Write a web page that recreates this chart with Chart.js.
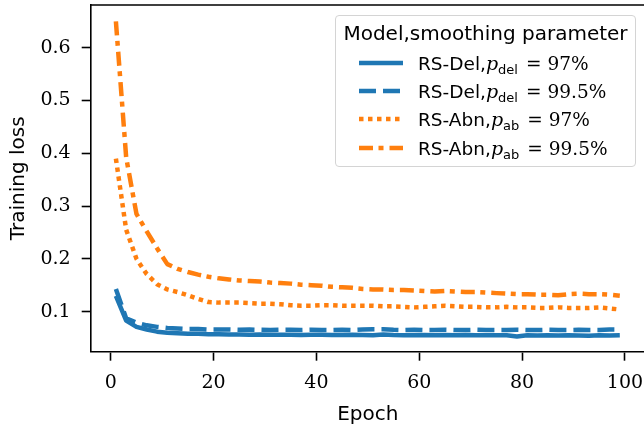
<!DOCTYPE html>
<html>
<head>
<meta charset="utf-8">
<script src="https://cdn.jsdelivr.net/npm/chart.js@4.4.1/dist/chart.umd.min.js"></script>
<style>
  html, body { margin: 0; padding: 0; background: #fff; overflow: hidden; }
  #wrap { position: relative; width: 650px; height: 430px; }
  #legend {
    position: absolute; left: 335px; top: 15px; width: 301px; height: 152px;
    box-sizing: border-box; border: 1px solid #d4d4d4; border-radius: 4px;
    background: rgba(255,255,255,0.8); color: #000; font-family: 'DejaVu Sans';
  }
  #legend .title { position: absolute; left: 0; right: 0; top: 5px; line-height: 24px;
    font-size: 20px; text-align: center; white-space: nowrap; }
  #legend .row { position: absolute; left: 0; height: 28px; display: flex; align-items: center; white-space: nowrap; }
  #legend svg { position: absolute; left: 23px; top: 9px; }
  #legend .lbl { position: absolute; left: 82px; top: 0; line-height: 28px; font-size: 18.5px; }
  #legend .m { font-family: 'DejaVu Serif'; font-style: italic; font-size: 19px; }
  #legend sub { font-family: 'DejaVu Sans'; font-size: 13px; vertical-align: -4px; line-height: 0; }
  #legend .s { font-family: 'DejaVu Serif'; font-size: 18.5px; }
  #legend .eq { padding: 0 6px 0 8px; }
</style>
</head>
<body>
<div id="wrap">
  <canvas id="lossChart"></canvas>
  <div id="legend"></div>
</div>
<script>
// epochs logged (every other epoch)
const epochs = [1, 3, 5, 7, 9, 11, 13, 15, 17, 19, 21, 23, 25, 27, 29, 31, 33, 35, 37, 39,
  41, 43, 45, 47, 49, 51, 53, 55, 57, 59, 61, 63, 65, 67, 69, 71, 73, 75, 77, 79,
  81, 83, 85, 87, 89, 91, 93, 95, 97, 99];

const lossDel97 = [0.130, 0.083, 0.071, 0.066, 0.062, 0.060, 0.059, 0.058, 0.058, 0.057,
  0.057, 0.0565, 0.0565, 0.056, 0.0565, 0.056, 0.056, 0.056, 0.0555, 0.056,
  0.056, 0.0555, 0.0555, 0.056, 0.0555, 0.055, 0.0565, 0.0555, 0.055, 0.055,
  0.0555, 0.055, 0.0555, 0.055, 0.0555, 0.055, 0.055, 0.055, 0.055, 0.053,
  0.055, 0.0545, 0.055, 0.0545, 0.055, 0.0545, 0.054, 0.055, 0.0545, 0.055];

const lossDel995 = [0.143, 0.087, 0.079, 0.074, 0.071, 0.069, 0.068, 0.067, 0.067, 0.066,
  0.066, 0.066, 0.0655, 0.066, 0.0655, 0.065, 0.0655, 0.0655, 0.065, 0.0655,
  0.065, 0.065, 0.0655, 0.065, 0.066, 0.0665, 0.0665, 0.0655, 0.065, 0.0655,
  0.065, 0.065, 0.0655, 0.065, 0.065, 0.0655, 0.065, 0.065, 0.065, 0.0655,
  0.065, 0.065, 0.0655, 0.065, 0.065, 0.0655, 0.065, 0.065, 0.066, 0.066];

const lossAbn97 = [0.390, 0.255, 0.200, 0.171, 0.152, 0.142, 0.137, 0.131, 0.124, 0.118,
  0.117, 0.117, 0.117, 0.116, 0.115, 0.115, 0.114, 0.112, 0.111, 0.111,
  0.112, 0.112, 0.111, 0.111, 0.111, 0.111, 0.110, 0.110, 0.109, 0.108,
  0.109, 0.110, 0.111, 0.110, 0.109, 0.109, 0.108, 0.108, 0.109, 0.108,
  0.108, 0.107, 0.107, 0.108, 0.107, 0.107, 0.107, 0.108, 0.106, 0.104];

const lossAbn995 = [0.650, 0.392, 0.285, 0.252, 0.220, 0.190, 0.181, 0.175, 0.170, 0.166,
  0.163, 0.161, 0.159, 0.158, 0.157, 0.155, 0.154, 0.153, 0.151, 0.150,
  0.149, 0.147, 0.146, 0.145, 0.143, 0.142, 0.142, 0.141, 0.141, 0.140,
  0.139, 0.138, 0.139, 0.138, 0.137, 0.137, 0.136, 0.135, 0.134, 0.133,
  0.133, 0.132, 0.132, 0.131, 0.133, 0.134, 0.133, 0.133, 0.132, 0.130];

const xTicks = [0, 20, 40, 60, 80, 100];
const yTicks = [0.1, 0.2, 0.3, 0.4, 0.5, 0.6];

const models = ['RS-Del', 'RS-Del', 'RS-Abn', 'RS-Abn'];
const paramNames = ['del', 'del', 'ab', 'ab'];
const paramValues = ['97%', '99.5%', '97%', '99.5%'];

const blue = '#1f77b4';
const orange = '#ff7f0e';

function toPoints(values) {
  return epochs.map((e, i) => ({ x: e, y: values[i] }));
}

function makeSet(i, values, color, dash) {
  return {
    label: models[i] + ',p_' + paramNames[i] + ' = ' + paramValues[i],
    data: toPoints(values),
    borderColor: color,
    backgroundColor: color,
    borderWidth: 4.5,
    borderDash: dash,
    borderCapStyle: 'butt',
    borderJoinStyle: 'round',
    pointRadius: 0,
    tension: 0,
    fill: false
  };
}

// draws top / right spines like matplotlib axes frame
const frame = {
  id: 'frame',
  afterDatasetsDraw(chart) {
    const { ctx, chartArea: a } = chart;
    ctx.save();
    ctx.strokeStyle = '#000';
    ctx.lineWidth = 1.6;
    ctx.beginPath();
    ctx.moveTo(a.left, a.top);
    ctx.lineTo(a.right, a.top);
    ctx.lineTo(a.right, a.bottom);
    ctx.stroke();
    ctx.restore();
  }
};

// html legend, so the subscripts stay real text
const htmlLegend = {
  id: 'htmlLegend',
  afterUpdate(chart) {
    const box = document.getElementById('legend');
    box.innerHTML = '';
    const title = document.createElement('div');
    title.className = 'title';
    title.textContent = 'Model,smoothing parameter';
    box.appendChild(title);
    chart.data.datasets.forEach((ds, i) => {
      const row = document.createElement('div');
      row.className = 'row';
      row.style.top = (32.7 + 28.3 * i) + 'px';
      const dash = ds.borderDash && ds.borderDash.length ? ds.borderDash.join(' ') : 'none';
      row.innerHTML =
        '<svg width="44" height="10"><line x1="0" y1="5" x2="44" y2="5" stroke="' + ds.borderColor +
        '" stroke-width="' + ds.borderWidth + '" stroke-dasharray="' + dash + '"/></svg>' +
        '<span class="lbl">' + models[i] + ',<span class="m">p</span><sub>' + paramNames[i] +
        '</sub><span class="s"><span class="eq">=</span>' + paramValues[i] + '</span></span>';
      box.appendChild(row);
    });
  }
};

const ctx = document.getElementById('lossChart').getContext('2d');

const lossChart = new Chart(ctx, {
  type: 'line',
  data: {
    datasets: [
      makeSet(0, lossDel97, blue, []),
      makeSet(1, lossDel995, blue, [17, 7]),
      makeSet(2, lossAbn97, orange, [4.5, 4.5]),
      makeSet(3, lossAbn995, orange, [14, 5.5, 5, 6])
    ]
  },
  options: {
    responsive: true,
    maintainAspectRatio: false,
    animation: false,
    layout: { padding: { top: 5, right: 5, left: 0, bottom: 0 } },
    plugins: { legend: { display: false }, tooltip: { enabled: false } },
    scales: {
      x: {
        type: 'linear',
        min: -3.9,
        max: 103.9,
        afterBuildTicks: s => { s.ticks = xTicks.map(v => ({ value: v })); },
        afterFit: s => { s.height = 78.3; s.paddingLeft = 0; s.paddingRight = 0; },
        grid: { drawOnChartArea: false, drawTicks: true, tickLength: 9, tickWidth: 1.6, tickColor: '#000' },
        border: { display: true, color: '#000', width: 1.6 },
        ticks: { color: '#000', font: { family: 'DejaVu Serif', size: 19 }, padding: 11, maxRotation: 0, autoSkip: false },
        title: { display: true, text: 'Epoch', color: '#000', font: { family: 'DejaVu Sans', size: 20 }, padding: { top: 0, bottom: 3 } }
      },
      y: {
        type: 'linear',
        min: 0.024,
        max: 0.681,
        afterBuildTicks: s => { s.ticks = yTicks.map(v => ({ value: v })); },
        afterFit: s => { s.width = 90.7; s.paddingTop = 0; s.paddingBottom = 0; },
        grid: { drawOnChartArea: false, drawTicks: true, tickLength: 9, tickWidth: 1.6, tickColor: '#000' },
        border: { display: true, color: '#000', width: 1.6 },
        ticks: { color: '#000', font: { family: 'DejaVu Serif', size: 19 }, padding: 11, callback: v => v.toFixed(1) },
        title: { display: true, text: 'Training loss', color: '#000', font: { family: 'DejaVu Sans', size: 20 }, padding: { top: 7, bottom: 0 } }
      }
    }
  },
  plugins: [frame, htmlLegend]
});
</script>
</body>
</html>
